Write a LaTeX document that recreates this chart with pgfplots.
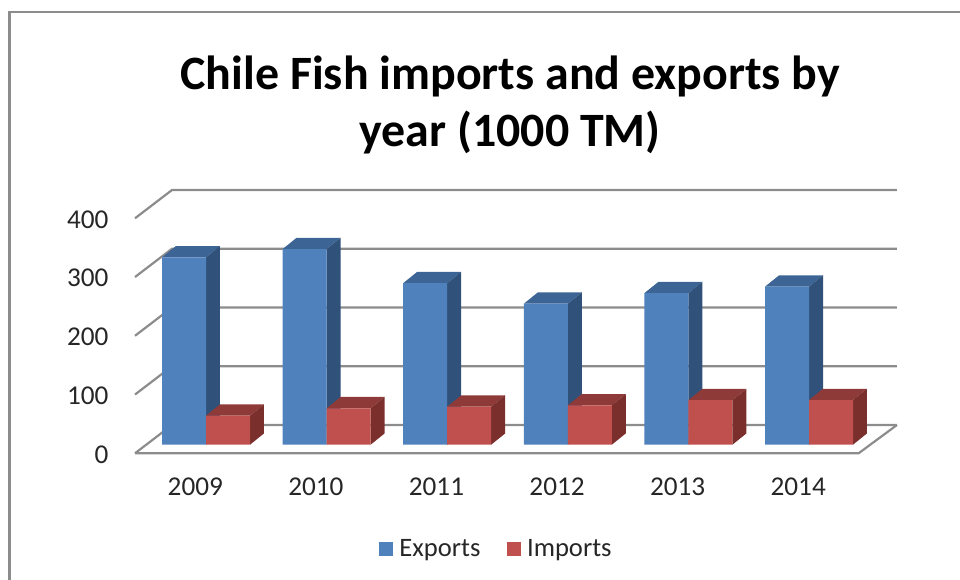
\documentclass[border=0pt]{standalone}
\usepackage{fontspec}
\setmainfont{Carlito}
\usepackage{pgfplots}
\usepackage{pgfplotstable}
\pgfplotsset{compat=1.18}

\definecolor{expfront}{HTML}{4F81BD}
\definecolor{exptop}{HTML}{3C6494}
\definecolor{expside}{HTML}{30527A}
\definecolor{impfront}{HTML}{C0504D}
\definecolor{imptop}{HTML}{8E3A38}
\definecolor{impside}{HTML}{7A2F2D}
\definecolor{wallline}{HTML}{8C8C8C}
\definecolor{labeltext}{HTML}{262626}

% Thousand tonnes per year
\pgfplotstableread{
year exports imports
2009 319 49.4
2010 333 62
2011 275 64.7
2012 240 67
2013 258 76
2014 269 76
}\fishdata

% Receding faces of a bar: year, value, left edge offset from the year (axis units), top colour, side colour
\newcommand{\depthfaces}[5]{%
  \pgfmathsetmacro{\xa}{#1+#3}%
  \pgfmathsetmacro{\xb}{\xa+0.3648}%
  \pgfmathsetmacro{\xc}{\xa+0.116}%
  \pgfmathsetmacro{\xd}{\xb+0.116}%
  \pgfmathsetmacro{\yt}{#2+19.2}%
  \addplot[fill=#4,draw=none,forget plot] coordinates {(\xa,#2) (\xc,\yt) (\xd,\yt) (\xb,#2)};
  \addplot[fill=#5,draw=none,forget plot] coordinates {(\xb,#2) (\xd,\yt) (\xd,19.2) (\xb,0)};
}
% Wall line of the box at a given value: from the front edge, back, then along the rear wall
\newcommand{\wallline}[1]{%
  \pgfmathsetmacro{\yb}{#1+48.2}%
  \addplot[wallline,line width=2.2pt,forget plot] coordinates {(2008.5,#1) (2008.807,\yb) (2014.818,\yb)};
}

\begin{document}
\begin{tikzpicture}
\path[use as bounding box] (0pt,0pt) rectangle (960pt,579pt);
\draw[wallline,line width=2.2pt] (9.5pt,-5pt) -- (9.5pt,567pt) -- (965pt,567pt);

% Box of the chart: floor, walls, value and year labels
\begin{axis}[
  anchor=south west, at={(135pt,125.7pt)},
  scale only axis, width=723.6pt, height=235pt,
  xmin=2008.5, xmax=2014.5, ymin=0, ymax=400,
  clip=false,
  axis line style={draw=none},
  tick style={draw=none},
  major tick length=0pt,
  xtick={2009,...,2014},
  ytick={0,100,200,300,400},
  xticklabel style={/pgf/number format/1000 sep={},font=\fontsize{27.2}{30}\selectfont,text=labeltext,yshift=-21pt},
  yticklabel style={font=\fontsize{27.2}{30}\selectfont,text=labeltext,xshift=-23pt,yshift=-1pt},
  /pgf/number format/assume math mode=true,
  title={Chile Fish imports and exports by\\year (1000 TM)},
  title style={at={(axis description cs:0.5185,1.455)},anchor=center,align=center,
    font=\fontsize{47.9}{57}\selectfont\bfseries,text=black},
]
\wallline{0}
\wallline{100}
\wallline{200}
\wallline{300}
\wallline{400}
\addplot[wallline,line width=2.2pt,forget plot] coordinates {(2008.5,0) (2014.5,0) (2014.818,48.2)};
\end{axis}

% Bars: the front faces stand on value 0 of this axis
\begin{axis}[
  anchor=south west, at={(145.7pt,134.3pt)},
  scale only axis, width=723.6pt, height=235pt,
  xmin=2008.5, xmax=2014.5, ymin=0, ymax=400,
  clip=false,
  hide axis,
  legend style={at={(axis description cs:0.4845,-0.444)},anchor=center,draw=none,fill=none,
    legend columns=2,font=\fontsize{26.6}{30}\selectfont,text=labeltext,
    /tikz/column 1/.style={column sep=4pt},
    /tikz/column 2/.style={column sep=24pt},
    /tikz/column 3/.style={column sep=4pt}},
  legend image code/.code={\fill[#1] (0pt,-7pt) rectangle (14.5pt,7pt);},
]
\depthfaces{2009}{319}{-0.3648}{exptop}{expside}
\depthfaces{2010}{333}{-0.3648}{exptop}{expside}
\depthfaces{2011}{275}{-0.3648}{exptop}{expside}
\depthfaces{2012}{240}{-0.3648}{exptop}{expside}
\depthfaces{2013}{258}{-0.3648}{exptop}{expside}
\depthfaces{2014}{269}{-0.3648}{exptop}{expside}
\addplot[ybar,bar width=44pt,bar shift=-22pt,fill=expfront,draw=none] table[x=year,y=exports]{\fishdata};
\addlegendentry{Exports}
\depthfaces{2009}{49.4}{0}{imptop}{impside}
\depthfaces{2010}{62}{0}{imptop}{impside}
\depthfaces{2011}{64.7}{0}{imptop}{impside}
\depthfaces{2012}{67}{0}{imptop}{impside}
\depthfaces{2013}{76}{0}{imptop}{impside}
\depthfaces{2014}{76}{0}{imptop}{impside}
\addplot[ybar,bar width=44pt,bar shift=22pt,fill=impfront,draw=none] table[x=year,y=imports]{\fishdata};
\addlegendentry{Imports}
\end{axis}
\end{tikzpicture}
\end{document}
